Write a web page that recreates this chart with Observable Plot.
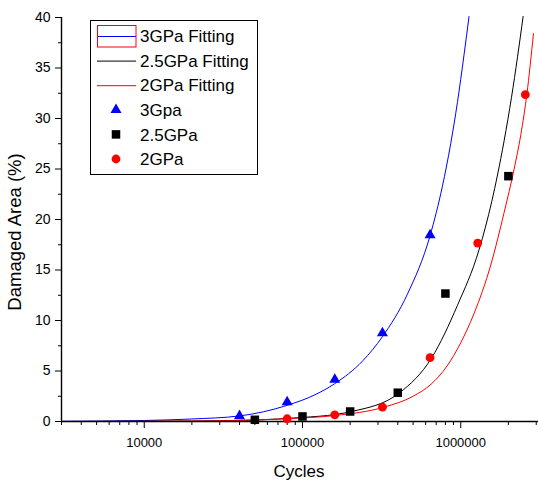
<!DOCTYPE html>
<html>
<head>
<meta charset="utf-8">
<script src="https://cdn.jsdelivr.net/npm/d3@7"></script>
<script src="https://cdn.jsdelivr.net/npm/@observablehq/plot@0.6"></script>
<style>
  html, body { margin: 0; padding: 0; background: #fff; }
  #chart svg { display: block; }
</style>
</head>
<body>
<div id="chart"></div>
<script>
// ---- Measured data points ----
const cycles3 = [40000, 80000, 160000, 320000, 640000];
const area3 = [0.55, 1.92, 4.14, 8.76, 18.45];
const cycles25 = [50000, 100000, 200000, 400000, 800000, 2000000];
const area25 = [0.17, 0.5, 0.99, 2.85, 12.67, 24.29];
const cycles2 = [80000, 160000, 320000, 640000, 1280000, 2560000];
const area2 = [0.27, 0.66, 1.42, 6.32, 17.67, 32.36];

// ---- Fitting curves ----
const fitN3 = [3000, 10000, 20000, 40000, 80000, 120000, 160000, 240000, 320000, 460000, 640000, 766000, 864000, 953000, 1049000, 1128000];
const fitY3 = [0.02, 0.1, 0.25, 0.55, 1.6, 2.65, 3.75, 6.0, 8.4, 12.6, 18.4, 23.3, 27.5, 31.6, 36.3, 40.1];
const fitN25 = [3000, 20000, 50000, 100000, 162000, 206000, 411000, 655000, 953000, 1305000, 1571000, 1707000, 1880000, 2093000, 2285000, 2479000];
const fitY25 = [0, 0.04, 0.15, 0.4, 0.7, 1.0, 2.85, 6.3, 11.5, 17.0, 21.8, 24.4, 27.8, 32.1, 36.1, 40.1];
const fitN2 = [3000, 10000, 40000, 80000, 162000, 327000, 500000, 650000, 820000, 1000000, 1214000, 1548000, 1880000, 2174000, 2397000, 2617000, 2880000];
const fitY2 = [0, 0.02, 0.1, 0.28, 0.6, 1.42, 2.5, 3.7, 5.5, 7.8, 10.7, 15.5, 20.7, 25.0, 28.4, 32.4, 38.4];

// ---- Ticks & labels ----
const xMajor = [10000, 100000, 1000000];
const xMinor = [3000, 4000, 5000, 6000, 7000, 8000, 9000,
  20000, 30000, 40000, 50000, 60000, 70000, 80000, 90000,
  200000, 300000, 400000, 500000, 600000, 700000, 800000, 900000,
  2000000, 3000000];
const yMajor = [0, 5, 10, 15, 20, 25, 30, 35, 40];
const yMinor = [2.5, 7.5, 12.5, 17.5, 22.5, 27.5, 32.5, 37.5];
const legendLabels = ["3GPa Fitting", "2.5GPa Fitting", "2GPa Fitting", "3Gpa", "2.5GPa", "2GPa"];
const xTitle = "Cycles";
const yTitle = "Damaged Area (%)";

const FONT = "'Liberation Sans', Arial, sans-serif";
const toRows = (xs, ys) => xs.map((x, i) => ({x, y: ys[i]}));

const fit3 = toRows(fitN3, fitY3);
const fit25 = toRows(fitN25, fitY25);
const fit2 = toRows(fitN2, fitY2);
const pts3 = toRows(cycles3, area3);
const pts25 = toRows(cycles25, area25);
const pts2 = toRows(cycles2, area2);

const BLUE = "#0000ff", RED = "#ff0000", BLACK = "#000000";
const R_TRI = 4.1, R_SQ = 4.8, R_CIR = 4.4;

const chart = Plot.plot({
  width: 538,
  height: 481,
  marginLeft: 61,
  marginRight: 0,
  marginTop: 17,
  marginBottom: 60,
  style: {fontFamily: FONT, color: "black", background: "white", overflow: "visible"},
  x: {type: "log", domain: [3000, 3100000], label: null},
  y: {domain: [0, 40], label: null},
  marks: [
    Plot.axisX({ticks: xMinor, tickSize: 4, tickFormat: () => "", label: null, stroke: "black"}),
    Plot.axisX({ticks: xMajor, tickSize: 7, tickPadding: 9, tickFormat: d => String(d), fontSize: 13, label: null, stroke: "black"}),
    Plot.axisY({ticks: yMinor, tickSize: 3, tickFormat: () => "", label: null, stroke: "black"}),
    Plot.axisY({ticks: yMajor, tickSize: 6, tickPadding: 5, fontSize: 14, label: null, stroke: "black"}),
    Plot.line(fit3, {x: "x", y: "y", stroke: BLUE, strokeWidth: 1, curve: "monotone-x"}),
    Plot.line(fit25, {x: "x", y: "y", stroke: BLACK, strokeWidth: 1, curve: "monotone-x"}),
    Plot.line(fit2, {x: "x", y: "y", stroke: RED, strokeWidth: 1, curve: "monotone-x"}),
    Plot.ruleY([0], {stroke: "black", strokeWidth: 1.4}),
    Plot.ruleX([3000], {stroke: "black", strokeWidth: 1.4}),
    Plot.dot(pts3, {x: "x", y: "y", symbol: "triangle", r: R_TRI, fill: BLUE, stroke: "none"}),
    Plot.dot(pts25, {x: "x", y: "y", symbol: "square", r: R_SQ, fill: BLACK, stroke: "none"}),
    Plot.dot(pts2, {x: "x", y: "y", symbol: "circle", r: R_CIR, fill: RED, stroke: "none"})
  ]
});
document.getElementById("chart").appendChild(chart);

// ---- Titles & legend ----
const svg = d3.select(chart);
svg.append("text")
  .attr("transform", "translate(21,232) rotate(-90)")
  .attr("text-anchor", "middle")
  .attr("font-family", FONT).attr("font-size", 18.5).attr("fill", "black")
  .text(yTitle);
svg.append("text")
  .attr("x", 299).attr("y", 477)
  .attr("text-anchor", "middle")
  .attr("font-family", FONT).attr("font-size", 17).attr("fill", "black")
  .text(xTitle);

const lg = svg.append("g").attr("font-family", FONT).attr("font-size", 17).attr("text-anchor", "start");
lg.append("rect").attr("x", 90.5).attr("y", 20.5).attr("width", 167).attr("height", 154)
  .attr("fill", "white").attr("stroke", "black").attr("stroke-width", 1);
const lineColors = [BLUE, BLACK, RED];
const symDefs = [
  {type: d3.symbolTriangle, r: R_TRI, color: BLUE},
  {type: d3.symbolSquare, r: R_SQ, color: BLACK},
  {type: d3.symbolCircle, r: R_CIR, color: RED}
];
legendLabels.forEach((label, i) => {
  const yy = 36 + i * 24.6;
  if (i < 3) {
    lg.append("line").attr("x1", 97).attr("x2", 136).attr("y1", yy + 0.5).attr("y2", yy + 0.5)
      .attr("stroke", lineColors[i]).attr("stroke-width", 1);
  } else {
    const s = symDefs[i - 3];
    lg.append("path")
      .attr("d", d3.symbol(s.type, Math.PI * s.r * s.r)())
      .attr("transform", `translate(116,${yy})`)
      .attr("fill", s.color);
  }
  lg.append("text").attr("x", 140).attr("y", yy).attr("dy", "0.36em")
    .attr("text-anchor", "start").attr("fill", "black").text(label);
});
lg.append("rect").attr("x", 97.5).attr("y", 25.5).attr("width", 38.5).attr("height", 21.5)
  .attr("fill", "none").attr("stroke", RED).attr("stroke-width", 1);
</script>
</body>
</html>
